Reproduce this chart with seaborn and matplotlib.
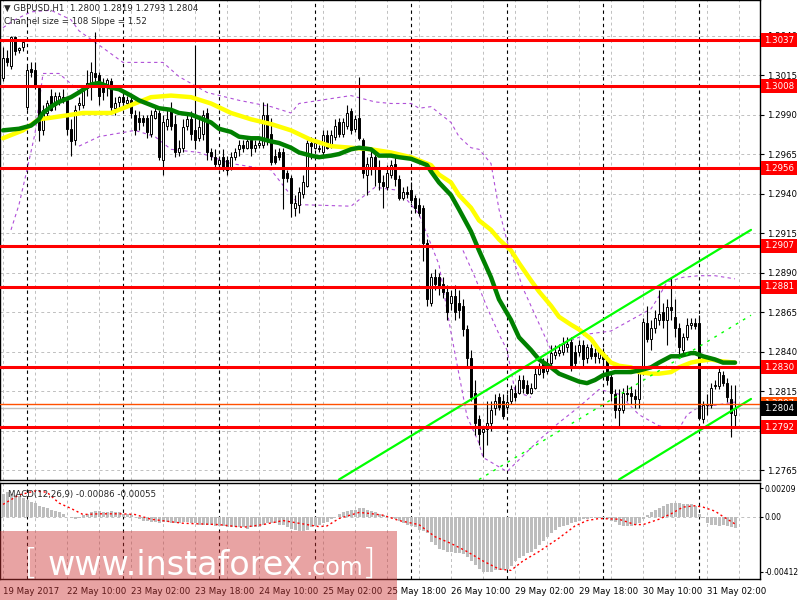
import matplotlib
matplotlib.use("Agg")
import matplotlib.pyplot as plt
import matplotlib.transforms as mtransforms
from matplotlib.patches import Rectangle
import numpy as np
import seaborn as sns

# GBPUSD H1, one bar per hour, 19 May 18:00 .. 31 May 09:00 (184 bars)
opens = [1.3013, 1.3026, 1.3021, 1.3039, 1.3031, 1.3033, 1.2995, 1.3019, 1.3018, 1.3007,
         1.2980, 1.2991, 1.3002, 1.2996, 1.2998, 1.3001, 1.2999, 1.2981, 1.2974, 1.2996,
         1.2996, 1.3007, 1.3010, 1.3016, 1.3015, 1.3010, 1.3009, 1.3011, 1.2994, 1.2998,
         1.3001, 1.2997, 1.2999, 1.2990, 1.2988, 1.2988, 1.2988, 1.2978, 1.2988, 1.2991,
         1.2961, 1.2983, 1.2993, 1.2984, 1.2966, 1.2969, 1.2983, 1.2987, 1.2980, 1.2975,
         1.2978, 1.2991, 1.2966, 1.2963, 1.2959, 1.2963, 1.2961, 1.2957, 1.2963, 1.2968,
         1.2971, 1.2969, 1.2974, 1.2969, 1.2971, 1.2971, 1.2990, 1.2978, 1.2964, 1.2966,
         1.2966, 1.2953, 1.2950, 1.2931, 1.2933, 1.2940, 1.2945, 1.2972, 1.2969, 1.2968,
         1.2966, 1.2977, 1.2971, 1.2976, 1.2985, 1.2978, 1.2983, 1.2992, 1.2981, 1.2988,
         1.2974, 1.2952, 1.2957, 1.2963, 1.2956, 1.2947, 1.2944, 1.2952, 1.2959, 1.2949,
         1.2937, 1.2941, 1.2942, 1.2937, 1.2933, 1.2931, 1.2909, 1.2871, 1.2887, 1.2887,
         1.2883, 1.2878, 1.2871, 1.2875, 1.2871, 1.2869, 1.2854, 1.2836, 1.2814, 1.2797,
         1.2789, 1.2791, 1.2795, 1.2804, 1.2811, 1.2809, 1.2805, 1.2809, 1.2814, 1.2814,
         1.2822, 1.2819, 1.2814, 1.2817, 1.2826, 1.2833, 1.2828, 1.2833, 1.2838, 1.2839,
         1.2840, 1.2843, 1.2846, 1.2840, 1.2840, 1.2844, 1.2836, 1.2842, 1.2839, 1.2836,
         1.2840, 1.2835, 1.2824, 1.2813, 1.2803, 1.2803, 1.2814, 1.2814, 1.2812, 1.2810,
         1.2827, 1.2858, 1.2848, 1.2855, 1.2860, 1.2865, 1.2860, 1.2868, 1.2862, 1.2855,
         1.2841, 1.2849, 1.2857, 1.2858, 1.2858, 1.2797, 1.2806, 1.2806, 1.2818, 1.2818,
         1.2825, 1.2820, 1.2810, 1.2800]
highs = [1.3033, 1.3031, 1.3040, 1.3040, 1.3033, 1.3038, 1.3021, 1.3023, 1.3023, 1.3009,
         1.2996, 1.2999, 1.3006, 1.3004, 1.3004, 1.3006, 1.3001, 1.2987, 1.2996, 1.3001,
         1.3009, 1.3018, 1.3023, 1.3042, 1.3017, 1.3013, 1.3013, 1.3013, 1.3001, 1.3002,
         1.3004, 1.3002, 1.3001, 1.2993, 1.2992, 1.2990, 1.2990, 1.2993, 1.2994, 1.2993,
         1.2990, 1.2993, 1.2998, 1.2990, 1.2974, 1.2987, 1.2990, 1.2992, 1.3034, 1.2987,
         1.2993, 1.2994, 1.2969, 1.2968, 1.2964, 1.2968, 1.2964, 1.2966, 1.2969, 1.2974,
         1.2974, 1.2975, 1.2976, 1.2974, 1.2974, 1.2998, 1.2997, 1.2988, 1.2968, 1.2969,
         1.2969, 1.2955, 1.2952, 1.2939, 1.2944, 1.2952, 1.2974, 1.2976, 1.2974, 1.2971,
         1.2980, 1.2980, 1.2980, 1.2987, 1.2988, 1.2988, 1.2996, 1.2994, 1.2990, 1.3014,
         1.2975, 1.2963, 1.2968, 1.2966, 1.2961, 1.2952, 1.2958, 1.2961, 1.2963, 1.2952,
         1.2944, 1.2945, 1.2947, 1.2939, 1.2937, 1.2933, 1.2911, 1.2890, 1.2892, 1.2890,
         1.2887, 1.2882, 1.2879, 1.2882, 1.2879, 1.2873, 1.2857, 1.2841, 1.2822, 1.2800,
         1.2793, 1.2809, 1.2809, 1.2813, 1.2814, 1.2813, 1.2813, 1.2819, 1.2819, 1.2825,
         1.2825, 1.2822, 1.2820, 1.2830, 1.2833, 1.2836, 1.2836, 1.2844, 1.2844, 1.2845,
         1.2849, 1.2849, 1.2849, 1.2844, 1.2847, 1.2847, 1.2845, 1.2845, 1.2842, 1.2842,
         1.2842, 1.2838, 1.2828, 1.2816, 1.2816, 1.2817, 1.2819, 1.2818, 1.2816, 1.2830,
         1.2861, 1.2869, 1.2860, 1.2866, 1.2879, 1.2871, 1.2873, 1.2887, 1.2873, 1.2858,
         1.2852, 1.2861, 1.2861, 1.2861, 1.2863, 1.2809, 1.2813, 1.2820, 1.2822, 1.2830,
         1.2828, 1.2823, 1.2819, 1.2819]
lows = [1.3011, 1.3021, 1.3019, 1.3028, 1.3029, 1.3030, 1.2993, 1.3014, 1.3006, 1.2973,
        1.2977, 1.2988, 1.2992, 1.2993, 1.2996, 1.2997, 1.2977, 1.2964, 1.2971, 1.2993,
        1.2994, 1.3002, 1.2999, 1.3009, 1.2996, 1.2999, 1.3002, 1.2992, 1.2990, 1.2995,
        1.2994, 1.2995, 1.2988, 1.2977, 1.2980, 1.2983, 1.2975, 1.2976, 1.2987, 1.2961,
        1.2952, 1.2980, 1.2980, 1.2963, 1.2964, 1.2966, 1.2980, 1.2974, 1.2968, 1.2973,
        1.2974, 1.2961, 1.2961, 1.2957, 1.2956, 1.2954, 1.2952, 1.2955, 1.2961, 1.2964,
        1.2966, 1.2968, 1.2964, 1.2966, 1.2969, 1.2969, 1.2971, 1.2958, 1.2959, 1.2961,
        1.2930, 1.2947, 1.2925, 1.2926, 1.2928, 1.2937, 1.2944, 1.2962, 1.2968, 1.2966,
        1.2964, 1.2968, 1.2969, 1.2974, 1.2976, 1.2976, 1.2981, 1.2978, 1.2979, 1.2974,
        1.2950, 1.2939, 1.2952, 1.2945, 1.2942, 1.2931, 1.2942, 1.2950, 1.2945, 1.2936,
        1.2936, 1.2937, 1.2934, 1.2928, 1.2926, 1.2897, 1.2869, 1.2869, 1.2879, 1.2876,
        1.2874, 1.2860, 1.2866, 1.2860, 1.2861, 1.2850, 1.2831, 1.2809, 1.2787, 1.2781,
        1.2773, 1.2781, 1.2790, 1.2800, 1.2803, 1.2797, 1.2803, 1.2807, 1.2809, 1.2813,
        1.2814, 1.2813, 1.2813, 1.2816, 1.2825, 1.2823, 1.2826, 1.2831, 1.2835, 1.2837,
        1.2838, 1.2840, 1.2828, 1.2830, 1.2837, 1.2831, 1.2833, 1.2835, 1.2833, 1.2833,
        1.2831, 1.2819, 1.2809, 1.2798, 1.2792, 1.2801, 1.2809, 1.2807, 1.2804, 1.2804,
        1.2825, 1.2846, 1.2841, 1.2852, 1.2857, 1.2855, 1.2844, 1.2860, 1.2849, 1.2838,
        1.2838, 1.2847, 1.2854, 1.2854, 1.2797, 1.2795, 1.2800, 1.2804, 1.2816, 1.2816,
        1.2818, 1.2808, 1.2786, 1.2793]
closes = [1.3026, 1.3023, 1.3039, 1.3030, 1.3032, 1.3036, 1.3018, 1.3017, 1.3009, 1.2980,
          1.2993, 1.2997, 1.2993, 1.3002, 1.3002, 1.2999, 1.2981, 1.2973, 1.2993, 1.2997,
          1.3007, 1.3010, 1.3017, 1.3014, 1.3002, 1.3004, 1.3012, 1.2995, 1.2997, 1.3001,
          1.2998, 1.2999, 1.2991, 1.2980, 1.2985, 1.2985, 1.2979, 1.2990, 1.2992, 1.2963,
          1.2985, 1.2987, 1.2983, 1.2966, 1.2969, 1.2982, 1.2987, 1.2978, 1.2974, 1.2982,
          1.2990, 1.2966, 1.2964, 1.2959, 1.2961, 1.2956, 1.2955, 1.2963, 1.2966, 1.2971,
          1.2969, 1.2973, 1.2969, 1.2971, 1.2972, 1.2990, 1.2974, 1.2960, 1.2960, 1.2963,
          1.2950, 1.2950, 1.2934, 1.2934, 1.2941, 1.2947, 1.2972, 1.2970, 1.2972, 1.2969,
          1.2977, 1.2969, 1.2977, 1.2983, 1.2978, 1.2985, 1.2991, 1.2980, 1.2987, 1.2975,
          1.2953, 1.2959, 1.2963, 1.2956, 1.2947, 1.2945, 1.2953, 1.2958, 1.2949, 1.2937,
          1.2941, 1.2940, 1.2936, 1.2931, 1.2928, 1.2909, 1.2873, 1.2887, 1.2883, 1.2880,
          1.2878, 1.2865, 1.2875, 1.2865, 1.2866, 1.2854, 1.2836, 1.2811, 1.2795, 1.2788,
          1.2791, 1.2795, 1.2803, 1.2809, 1.2805, 1.2799, 1.2808, 1.2816, 1.2811, 1.2822,
          1.2817, 1.2814, 1.2817, 1.2826, 1.2830, 1.2827, 1.2833, 1.2839, 1.2840, 1.2841,
          1.2845, 1.2845, 1.2830, 1.2833, 1.2844, 1.2835, 1.2843, 1.2837, 1.2837, 1.2840,
          1.2835, 1.2822, 1.2814, 1.2803, 1.2804, 1.2814, 1.2813, 1.2812, 1.2810, 1.2827,
          1.2859, 1.2848, 1.2855, 1.2861, 1.2864, 1.2860, 1.2868, 1.2866, 1.2855, 1.2843,
          1.2849, 1.2857, 1.2858, 1.2856, 1.2798, 1.2806, 1.2807, 1.2817, 1.2819, 1.2827,
          1.2820, 1.2811, 1.2801, 1.2804]

# moving averages, read at sample bars
yellow_bars = [0, 5, 9, 12, 20, 27, 32, 37, 42, 47, 52, 57, 62, 67, 72, 77, 82, 87, 92, 97,
               102, 104, 107, 109, 112, 114, 117, 119, 122, 124, 127, 129, 132, 134, 137, 139,
               142, 144, 147, 149, 152, 154, 157, 159, 162, 164, 167, 169, 172, 174, 177, 179, 183]
yellow_vals = [1.2975, 1.2980, 1.2987, 1.2988, 1.2991, 1.2991, 1.2996, 1.3001, 1.3002, 1.3001,
               1.2997, 1.2991, 1.2987, 1.2984, 1.2980, 1.2974, 1.2970, 1.2969, 1.2968, 1.2966,
               1.2963, 1.2961, 1.2958, 1.2952, 1.2947, 1.2939, 1.2931, 1.2923, 1.2917, 1.2911,
               1.2904, 1.2896, 1.2885, 1.2878, 1.2869, 1.2862, 1.2857, 1.2854, 1.2848, 1.2841,
               1.2833, 1.2831, 1.2830, 1.2827, 1.2826, 1.2826, 1.2827, 1.2830, 1.2833, 1.2834,
               1.2835, 1.2834, 1.2833]
green_bars = [0, 4, 7, 9, 10, 12, 14, 17, 19, 22, 24, 27, 29, 32, 34, 37, 39, 42, 44, 47,
              49, 52, 54, 57, 59, 62, 64, 67, 69, 72, 74, 77, 79, 82, 84, 87, 89, 92, 94, 97,
              99, 102, 104, 106, 107, 109, 112, 114, 117, 119, 122, 124, 127, 129, 132, 134,
              137, 139, 142, 144, 146, 148, 150, 153, 157, 159, 162, 164, 167, 169, 172, 173,
              175, 178, 180, 183]
green_vals = [1.2980, 1.2981, 1.2983, 1.2987, 1.2991, 1.2995, 1.2998, 1.3001, 1.3004, 1.3009,
              1.3010, 1.3007, 1.3006, 1.3002, 1.2999, 1.2996, 1.2994, 1.2993, 1.2991, 1.2990,
              1.2988, 1.2985, 1.2981, 1.2979, 1.2976, 1.2975, 1.2975, 1.2973, 1.2972, 1.2969,
              1.2966, 1.2964, 1.2963, 1.2964, 1.2965, 1.2968, 1.2969, 1.2968, 1.2964, 1.2964,
              1.2963, 1.2962, 1.2960, 1.2958, 1.2954, 1.2947, 1.2939, 1.2930, 1.2916, 1.2904,
              1.2887, 1.2873, 1.2860, 1.2849, 1.2841, 1.2835, 1.2830, 1.2826, 1.2823, 1.2821,
              1.2820, 1.2822, 1.2825, 1.2827, 1.2827, 1.2828, 1.2830, 1.2833, 1.2837, 1.2837,
              1.2839, 1.2839, 1.2837, 1.2835, 1.2833, 1.2833]

# Bollinger bands (dashed purple)
upper_bars = [0, 3, 7, 12, 17, 19, 24, 30, 40, 44, 51, 59, 67, 72, 74, 87, 93, 97, 102, 104,
              107, 109, 112, 114, 117, 119, 122, 124, 126, 130, 137, 142, 146, 152, 157, 162,
              164, 166, 170, 174, 178, 183]
upper_vals = [1.3045, 1.3050, 1.3055, 1.3056, 1.3050, 1.3043, 1.3034, 1.3023, 1.3023, 1.3014,
              1.3004, 1.2999, 1.2995, 1.2991, 1.2997, 1.3002, 1.2998, 1.2997, 1.2997, 1.2994,
              1.2995, 1.2991, 1.2985, 1.2976, 1.2969, 1.2968, 1.2959, 1.2930, 1.2910, 1.2880,
              1.2841, 1.2847, 1.2851, 1.2853, 1.2860, 1.2867, 1.2875, 1.2884, 1.2887, 1.2888,
              1.2888, 1.2886]
mid_bars = [2, 4, 6, 8, 10, 14, 19]
mid_vals = [1.2917, 1.2933, 1.2955, 1.2978, 1.3016, 1.3016, 1.3005]
mid2_bars = [115, 118, 121, 124, 126, 128, 132]
mid2_vals = [1.2904, 1.2887, 1.2868, 1.2851, 1.2841, 1.2815, 1.2811]
lower_bars = [19, 24, 33, 38, 42, 49, 57, 67, 71, 74, 87, 93, 99, 104, 109, 112, 116, 119,
              120, 124, 126, 128, 134, 139, 144, 149, 154, 159, 164, 169, 171, 174, 178, 183]
lower_vals = [1.2970, 1.2976, 1.2980, 1.2976, 1.2968, 1.2966, 1.2959, 1.2955, 1.2942, 1.2933,
              1.2932, 1.2944, 1.2942, 1.2927, 1.2895, 1.2852, 1.2799, 1.2782, 1.2773, 1.2767,
              1.2764, 1.2769, 1.2784, 1.2795, 1.2805, 1.2816, 1.2813, 1.2800, 1.2793, 1.2791,
              1.2800, 1.2805, 1.2806, 1.2808]

# linear regression channel (end points)
chan_bars = [84, 187]
chan_upper = [1.2759, 1.2917]
chan_lower_bars = [154, 187]
chan_lower = [1.2759, 1.2810]
chan_mid_bars = [119, 187]
chan_mid = [1.2759, 1.2863]

levels = [1.3037, 1.3008, 1.2956, 1.2907, 1.2881, 1.2830, 1.2792]
stop_level = 1.2807
bid = 1.2804
price_ticks = [1.3040, 1.3015, 1.2990, 1.2965, 1.2940, 1.2915, 1.2890, 1.2865, 1.2840,
               1.2815, 1.2790, 1.2765]

# MACD(12,26,9): histogram per bar and signal read at sample bars
macd_hist = [0.0017, 0.0018, 0.0017, 0.0016, 0.0015, 0.0014, 0.0012, 0.0011,
             0.0010, 0.0008, 0.0007, 0.0006, 0.0005, 0.0004, 0.0003, 0.0002,
             0.0000, -0.0001, -0.0002, -0.0001,
             0.0001, 0.0002, 0.0003, 0.0004, 0.0004, 0.0003, 0.0003, 0.0004, 0.0003, 0.0003,
             0.0002, 0.0002, 0.0001, 0.0000,
             -0.0002, -0.0003, -0.0003, -0.0004, -0.0004, -0.0005, -0.0004, -0.0004, -0.0005,
             -0.0005, -0.0005, -0.0004, -0.0004, -0.0005, -0.0005, -0.0006, -0.0006, -0.0006,
             -0.0006, -0.0007, -0.0007, -0.0007,
             -0.0008, -0.0008, -0.0008, -0.0008, -0.0008, -0.0009, -0.0008, -0.0008, -0.0008, -0.0006,
             -0.0005, -0.0005, -0.0005, -0.0006, -0.0006, -0.0008, -0.0009,
             -0.0010, -0.0011, -0.0011, -0.0010, -0.0008, -0.0007,
             -0.0006, -0.0005, -0.0004, -0.0002,
             0.0000, 0.0002, 0.0003, 0.0004, 0.0005, 0.0005,
             0.0006, 0.0006, 0.0005,
             0.0004, 0.0003, 0.0002, 0.0001, 0.0000, -0.0001, -0.0002, -0.0003,
             -0.0005, -0.0006, -0.0007, -0.0008,
             -0.0010, -0.0011, -0.0012,
             -0.0019, -0.0021, -0.0024,
             -0.0025, -0.0026, -0.0026, -0.0027, -0.0027, -0.0028, -0.0030,
             -0.0033, -0.0036, -0.0039,
             -0.0041, -0.00412, -0.0041, -0.0040, -0.0040,
             -0.0040, -0.0039, -0.0037,
             -0.0033, -0.0031, -0.0029, -0.0027, -0.0026,
             -0.0024, -0.0021, -0.0018, -0.0015, -0.0012,
             -0.0010, -0.0008, -0.0007, -0.0006, -0.0005,
             -0.0004, -0.0003, -0.0002, -0.0002, -0.0001, -0.0001, -0.0001,
             -0.0001, -0.0002, -0.0003, -0.0004,
             -0.0006, -0.0007, -0.0007, -0.0007, -0.0006, -0.0005,
             -0.0002, 0.0001, 0.0003,
             0.0005, 0.0006, 0.0008, 0.0009, 0.0010, 0.0010,
             0.0010, 0.0009, 0.0009, 0.0009, 0.0008,
             0.0002, -0.0001,
             -0.0005, -0.0006, -0.0006, -0.0007, -0.0006, -0.0007, -0.0008, -0.00086]
signal_bars = [0, 4, 8, 11, 14, 17, 20, 24, 30, 33, 37, 45, 54, 60, 65, 70, 74, 79, 81, 84,
               89, 91, 95, 99, 104, 108, 112, 116, 120, 124, 127, 130, 134, 139, 143, 146,
               149, 154, 158, 160, 164, 167, 170, 173, 175, 178, 180, 183]
signal_vals = [0.0009, 0.0016, 0.0019, 0.0018, 0.0010, 0.0006, 0.00015, 0.0002, 0.0002, 0.00015,
               -0.0002, -0.0005, -0.0006, -0.0008, -0.0006, -0.0003, -0.0005, -0.00075, -0.0007,
               -0.00015, 0.0003, 0.00025, 0.0001, -0.0003, -0.0006, -0.0015, -0.0020, -0.0026,
               -0.0033, -0.0039, -0.0040, -0.0033, -0.0026, -0.0016, -0.0007, -0.0003, -0.00015,
               -0.0002, -0.0006, -0.0006, -0.0002, 0.0002, 0.0007, 0.0008, 0.0007, 0.0004,
               0.0000, -0.00055]

date_ticks = [0, 16, 32, 48, 64, 80, 96, 112, 128, 144, 160, 176]
date_labels = ['19 May 2017', '22 May 10:00', '23 May 02:00', '23 May 18:00', '24 May 10:00',
               '25 May 02:00', '25 May 18:00', '26 May 10:00', '29 May 02:00', '29 May 18:00',
               '30 May 10:00', '31 May 02:00']
day_starts = [6, 30, 54, 78, 102, 126, 150, 174]

sns.set_style('white')
plt.rcParams['font.family'] = ['DejaVu Sans']
FS = 6.2

fig = plt.figure(figsize=(8, 6), dpi=100)
ax = fig.add_axes([0.0, 0.2, 0.95, 0.8])
mx = fig.add_axes([0.0, 0.035, 0.95, 0.16])

n = len(closes)
bars = np.arange(n)
o, h, l, c = (np.array(v) for v in (opens, highs, lows, closes))
xlim = (-0.75, 189.25)

grid_kw = dict(color='#c0c0c0', lw=0.7, ls=(0, (3, 3)), zorder=0)
sep_kw = dict(color='black', lw=0.8, ls=(0, (3, 3)), zorder=0.5)
for a in (ax, mx):
    for b in range(0, 190, 8):
        a.axvline(b, **grid_kw)
    for b in day_starts:
        a.axvline(b, **sep_kw)
    a.set_xlim(*xlim)
    for s in a.spines.values():
        s.set_color('black')
        s.set_linewidth(1)
for p in price_ticks:
    ax.axhline(p, **grid_kw)

# candles
ax.vlines(bars, l, h, color='black', lw=0.8, zorder=3)
up = c >= o
body = np.maximum(np.abs(c - o), 0.00002)
ax.bar(bars[up], body[up], bottom=o[up], width=0.7, color='white',
       edgecolor='black', linewidth=0.7, zorder=3.2)
ax.bar(bars[~up], body[~up], bottom=c[~up], width=0.7, color='black',
       edgecolor='black', linewidth=0.7, zorder=3.2)

# bands and moving averages
band_kw = dict(color='#b050d8', lw=0.8, ls=(0, (3, 3)), zorder=2)
for bx, by in ((upper_bars, upper_vals), (mid_bars, mid_vals), (mid2_bars, mid2_vals),
               (lower_bars, lower_vals)):
    ax.plot(bx, by, **band_kw)
sns.lineplot(x=yellow_bars, y=yellow_vals, ax=ax, color='#ffff00', lw=3.2, zorder=4)
sns.lineplot(x=green_bars, y=green_vals, ax=ax, color='#008000', lw=3.2, zorder=4.1)

# channel
ax.plot(chan_bars, chan_upper, color='#00ff00', lw=1.6, zorder=4.5)
ax.plot(chan_lower_bars, chan_lower, color='#00ff00', lw=1.6, zorder=4.5)
ax.plot(chan_mid_bars, chan_mid, color='#00ff00', lw=1.0, ls=(0, (2, 4)), zorder=4.5)

for lv in levels:
    ax.axhline(lv, color='#ff0000', lw=2.2, zorder=5)
ax.axhline(stop_level, color='#ff5000', lw=1.0, zorder=5)
ax.axhline(bid, color='#c0c0c0', lw=1.0, zorder=2.5)

ax.set_ylim(1.27587, 1.30625)
ax.yaxis.tick_right()
ax.set_yticks(price_ticks)
ax.set_yticklabels(['%.4f' % p for p in price_ticks])
ax.tick_params(axis='y', direction='out', length=3, pad=2, labelsize=FS, colors='black')
ax.tick_params(axis='x', bottom=False, labelbottom=False)
ax.set_xlabel('')
ax.set_ylabel('')

tr = mtransforms.blended_transform_factory(ax.transAxes, ax.transData)


def tag(y, text, fc, tc='white', z=7):
    ax.text(1.0 + 4.0 / 760, y, text, transform=tr, ha='left', va='center', fontsize=FS,
            color=tc, clip_on=False, zorder=z,
            bbox=dict(boxstyle='square,pad=0.3', fc=fc, ec=fc, lw=0))


for lv in levels:
    tag(lv, '%.4f' % lv, '#ff0000')
tag(stop_level, '%.4f' % stop_level, '#ff5000', z=7)
tag(bid, '%.4f' % bid, 'black', z=8)

# MACD panel
mx.bar(bars, macd_hist, width=0.75, color='#bdbdbd', linewidth=0, zorder=1)
mx.axhline(0, color='#c0c0c0', lw=0.7, ls=(0, (3, 3)), zorder=0)
sns.lineplot(x=signal_bars, y=signal_vals, ax=mx, color='#ff0000', lw=1.0,
             ls=(0, (1.5, 2)), zorder=2)
mx.set_ylim(-0.00464, 0.00249)
mx.yaxis.tick_right()
mx.set_yticks([0.00209, 0.0, -0.00412])
mx.set_yticklabels(['0.00209', '0.00', '-0.00412'])
mx.tick_params(axis='y', direction='out', length=2, pad=1, labelsize=5.5, colors='black')
mx.set_xticks(date_ticks)
mx.set_xticks(range(8, 190, 16), minor=True)
mx.set_xticklabels(date_labels, ha='left')
mx.tick_params(axis='x', which='both', direction='out', length=3, pad=3, labelsize=FS,
               colors='black')
mx.set_xlabel('')
mx.set_ylabel('')
mx.text(8 / 760, 0.93, 'MACD(12,26,9) -0.00086 -0.00055', transform=mx.transAxes,
        fontsize=FS, va='top', ha='left')

fig.text(4 / 800, 1 - 8 / 600, '\u25bc GBPUSD,H1  1.2800 1.2819 1.2793 1.2804',
         fontsize=FS, va='center', ha='left')
fig.text(4 / 800, 1 - 22 / 600, 'Channel size = 108 Slope = 1.52',
         fontsize=FS, va='center', ha='left')

# watermark
fig.add_artist(Rectangle((0, 0), 397 / 800, 69 / 600, transform=fig.transFigure,
                         facecolor=(0.8, 0.2, 0.2), alpha=0.45, lw=0, zorder=10))
fig.text(24 / 800, 26 / 600, '[', fontsize=26, color='white', fontweight='light', zorder=11)
fig.text(48 / 800, 25 / 600, 'www.instaforex', fontsize=24, color='white', zorder=11)
fig.text(306 / 800, 25 / 600, '.com', fontsize=17, color='white', zorder=11)
fig.text(362 / 800, 26 / 600, ']', fontsize=26, color='white', fontweight='light', zorder=11)

fig.savefig('out.png', dpi=100)
